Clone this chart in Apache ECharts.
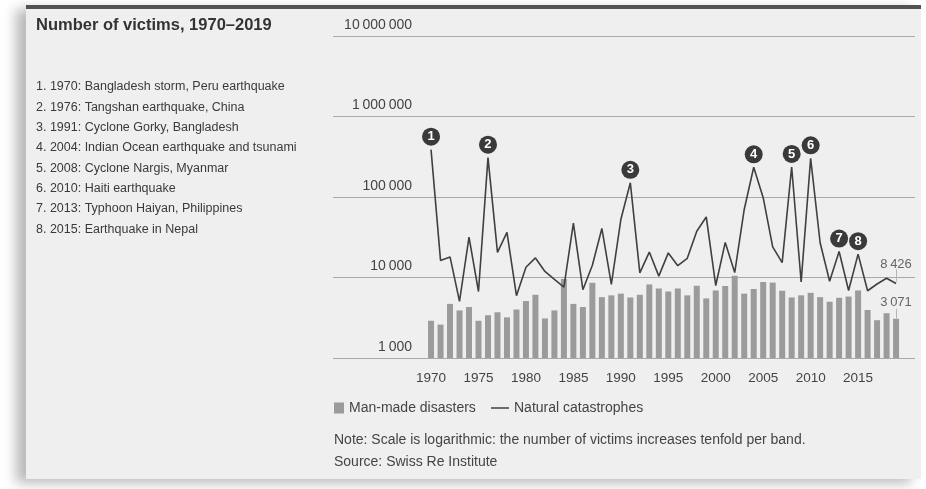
<!DOCTYPE html>
<html>
<head>
<meta charset="utf-8">
<script src="https://cdn.jsdelivr.net/npm/echarts@6/dist/echarts.min.js"></script>
<style>
html,body{margin:0;padding:0;background:#fff;}
#panel{position:absolute;left:26px;top:5px;width:895px;height:470px;background:#efefef;border-top:4px solid #525252;box-shadow:-10px 4px 12px rgba(0,0,0,0.28);}
#chart{position:absolute;left:0;top:0;width:926px;height:489px;}
</style>
</head>
<body>
<div id="panel"></div>
<div id="chart"></div>
<script>
var years = ['1970','1971','1972','1973','1974','1975','1976','1977','1978','1979',
    '1980','1981','1982','1983','1984','1985','1986','1987','1988','1989',
    '1990','1991','1992','1993','1994','1995','1996','1997','1998','1999',
    '2000','2001','2002','2003','2004','2005','2006','2007','2008','2009',
    '2010','2011','2012','2013','2014','2015','2016','2017','2018','2019'];

// man-made disasters (bars)
var manMade = [2900,2600,4700,3900,4300,2900,3400,3700,3200,4000,
    5100,6100,3100,3900,9600,4700,4300,8600,5700,6000,
    6300,5650,6100,8200,7300,6700,7300,6000,7900,5500,
    6900,7850,10500,6300,7200,8800,8650,6850,5650,6000,
    6450,5700,5000,5600,5800,6900,3950,2950,3600,3071];

// natural catastrophes (line)
var natural = [387000,16300,18000,5060,31800,6700,308000,20500,36400,5950,
    13400,17500,11900,9500,7600,47500,7050,14200,40700,8200,
    52500,150000,11400,20700,10400,20200,14000,17300,37500,56500,
    7950,27300,11500,70000,234000,98000,24000,15300,236000,8800,
    302000,27000,9000,21000,6900,19500,6850,8300,9800,8426];

var yTicks = [1000, 10000, 100000, 1000000, 10000000];

var events = [
    {n: 1, year: '1970'}, {n: 2, year: '1976'}, {n: 3, year: '1991'}, {n: 4, year: '2004'},
    {n: 5, year: '2008'}, {n: 6, year: '2010'}, {n: 7, year: '2013'}, {n: 8, year: '2015'}
];

var eventNotes = [
    '1. 1970: Bangladesh storm, Peru earthquake',
    '2. 1976: Tangshan earthquake, China',
    '3. 1991: Cyclone Gorky, Bangladesh',
    '4. 2004: Indian Ocean earthquake and tsunami',
    '5. 2008: Cyclone Nargis, Myanmar',
    '6. 2010: Haiti earthquake',
    '7. 2013: Typhoon Haiyan, Philippines',
    '8. 2015: Earthquake in Nepal'
];

var FONT = '"Liberation Sans", Arial, sans-serif';

function fmt(v) {
    return String(Math.round(v)).replace(/\B(?=(\d{3})+(?!\d))/g, '\u2009');
}

var chart = echarts.init(document.getElementById('chart'));
var last = years.length - 1;

var marks = events.map(function(e) {
    return {
        coord: [e.year, natural[years.indexOf(e.year)]],
        value: e.n
    };
});
marks.push({
    coord: [years[last], natural[last]],
    symbol: 'circle',
    symbolSize: 0,
    symbolOffset: [0, 0],
    label: {show: true, position: 'top', distance: 13, formatter: fmt(natural[last]),
        color: '#666', fontSize: 13, fontWeight: 'normal', fontFamily: FONT}
});

var graphics = [{
    type: 'text', left: 36, top: 17,
    style: {text: 'Number of victims, 1970\u20132019', font: 'bold 16.5px ' + FONT, fill: '#333'}
}];
eventNotes.forEach(function(t, i) {
    graphics.push({
        type: 'text', left: 36, top: 80.5 + i * 20.3,
        style: {text: t, font: '12.5px ' + FONT, fill: '#3a3a3a'}
    });
});
graphics.push({
    type: 'text', left: 334, top: 433,
    style: {text: 'Note: Scale is logarithmic: the number of victims increases tenfold per band.', font: '14px ' + FONT, fill: '#444'}
});
graphics.push({
    type: 'text', left: 334, top: 455,
    style: {text: 'Source: Swiss Re Institute', font: '14px ' + FONT, fill: '#444'}
});

var option = {
    backgroundColor: 'transparent',
    animation: false,
    textStyle: {fontFamily: FONT},
    graphic: graphics,
    grid: [
        {left: 333, right: 11, top: 36, height: 322},
        {left: 426.3, width: 474.5, top: 36, height: 322}
    ],
    legend: [{
        data: ['Man-made disasters'],
        left: 334, top: 401, padding: 0,
        icon: 'rect', itemWidth: 10, itemHeight: 11,
        textStyle: {color: '#444', fontSize: 14, fontFamily: FONT}
    }, {
        data: ['Natural catastrophes'],
        left: 491, top: 401, padding: 0,
        icon: 'rect', itemWidth: 18, itemHeight: 1.5,
        textStyle: {color: '#444', fontSize: 14, fontFamily: FONT}
    }],
    xAxis: [{
        gridIndex: 0, type: 'value', show: false, min: 0, max: 1
    }, {
        gridIndex: 1, type: 'category', data: years,
        axisLine: {show: false}, axisTick: {show: false},
        axisLabel: {
            margin: 13, color: '#444', fontSize: 13.5, fontFamily: FONT,
            interval: function(idx, val) { return Number(val) % 5 === 0; }
        }
    }],
    yAxis: [{
        gridIndex: 0, type: 'log', logBase: 10,
        min: yTicks[0], max: yTicks[yTicks.length - 1],
        axisLine: {show: false}, axisTick: {show: false},
        splitLine: {show: true, lineStyle: {color: '#a9a9a9', width: 1}},
        axisLabel: {
            inside: true, margin: 79, align: 'right', verticalAlign: 'bottom',
            padding: [0, 0, 4, 0],
            color: '#444', fontSize: 14, fontFamily: FONT,
            formatter: fmt
        }
    }, {
        gridIndex: 1, type: 'log', logBase: 10, show: false,
        min: yTicks[0], max: yTicks[yTicks.length - 1],
        splitLine: {show: false}
    }],
    series: [{
        name: 'Man-made disasters',
        type: 'bar',
        xAxisIndex: 1, yAxisIndex: 1,
        barWidth: 6,
        itemStyle: {color: '#9b9b9b'},
        data: manMade.map(function(v, i) {
            if (i !== last) return v;
            return {value: v, label: {show: true, position: 'top', distance: 10,
                formatter: fmt(v), color: '#666', fontSize: 13, fontFamily: FONT}};
        }),
        markLine: {
            silent: true, symbol: ['none', 'none'],
            label: {show: false},
            lineStyle: {color: '#b5b5b5', width: 1, type: 'solid'},
            data: [[{coord: [years[last], manMade[last]]}, {coord: [years[last], manMade[last] * 1.33]}]]
        }
    }, {
        name: 'Natural catastrophes',
        type: 'line',
        xAxisIndex: 1, yAxisIndex: 1,
        symbol: 'none',
        z: 3,
        lineStyle: {color: '#404040', width: 1.6},
        itemStyle: {color: '#404040'},
        data: natural,
        markLine: {
            silent: true, symbol: ['none', 'none'],
            label: {show: false},
            lineStyle: {color: '#b5b5b5', width: 1, type: 'solid'},
            data: [[{coord: [years[last], natural[last] * 1.06]}, {coord: [years[last], natural[last] * 1.5]}]]
        },
        markPoint: {
            silent: true,
            symbol: 'circle',
            symbolSize: 18,
            symbolOffset: [0, -13],
            itemStyle: {color: '#3a3a3a'},
            label: {show: true, position: 'inside', color: '#fff', fontSize: 13,
                fontWeight: 'bold', fontFamily: FONT, formatter: '{c}'},
            data: marks
        }
    }]
};

chart.setOption(option);
</script>
</body>
</html>
